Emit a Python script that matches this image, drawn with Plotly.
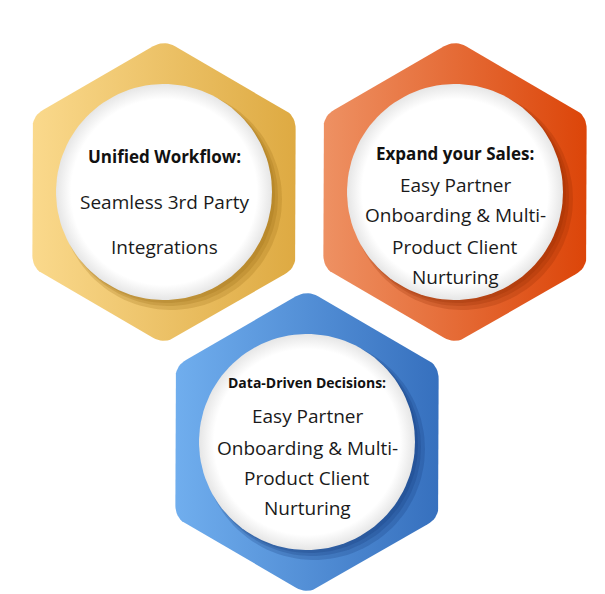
import numpy as np
import plotly.graph_objects as go

# content
titles = ['Unified Workflow:', 'Expand your Sales:', 'Data-Driven Decisions:']
bodies = [
    ['Seamless 3rd Party', 'Integrations'],
    ['Easy Partner', 'Onboarding & Multi-', 'Product Client', 'Nurturing'],
    ['Easy Partner', 'Onboarding & Multi-', 'Product Client', 'Nurturing'],
]

# layout (pixel coordinates, y down)
centers = [(164, 192), (455, 192), (307, 442)]
hex_r = 152
corner_r = 22
circle_r = 108
title_dy = [-36, -39, -60]
body_dy = [[10, 55], [-7, 23, 55, 85], [-26, 6, 36, 66]]
title_size = [17, 17, 14]
body_size = [19, 19, 19]

# styles
light = ['#FAD98C', '#EE9163', '#70AEEE']
dark = ['#DEAA42', '#DC4509', '#3670BE']
shadow = ['rgba(150,105,20,0.22)', 'rgba(140,40,0,0.22)', 'rgba(20,55,120,0.22)']
font = 'Open Sans'
page_offset = 8  # body margin of the html page


def rounded_hex(cx, cy, R, rc, n=10):
    ang = np.deg2rad(-90 + 60 * np.arange(6))
    vx = cx + R * np.cos(ang)
    vy = cy + R * np.sin(ang)
    xs, ys = [], []
    d = rc / np.tan(np.deg2rad(60))
    for i in range(6):
        p = np.array([vx[i], vy[i]])
        a = np.array([vx[i - 1], vy[i - 1]])
        b = np.array([vx[(i + 1) % 6], vy[(i + 1) % 6]])
        ua = (a - p) / np.linalg.norm(a - p)
        ub = (b - p) / np.linalg.norm(b - p)
        p1 = p + ua * d
        p2 = p + ub * d
        for t in np.linspace(0, 1, n):
            q = (1 - t) ** 2 * p1 + 2 * (1 - t) * t * p + t ** 2 * p2
            xs.append(q[0])
            ys.append(q[1])
    xs.append(xs[0])
    ys.append(ys[0])
    return xs, ys


def circle(cx, cy, r, n=120):
    t = np.linspace(0, 2 * np.pi, n)
    return list(cx + r * np.cos(t)), list(cy + r * np.sin(t))


fig = go.Figure()

for i, (cx, cy) in enumerate(centers):
    hx, hy = rounded_hex(cx, cy, hex_r, corner_r)
    fig.add_trace(go.Scatter(
        x=hx, y=hy, mode='lines', line=dict(width=0), fill='toself',
        fillgradient=dict(type='horizontal', colorscale=[[0, light[i]], [1, dark[i]]]),
        hoverinfo='skip', showlegend=False))

    # soft shadow under the circle, towards bottom right
    for off, grow in [(7, 3), (5, 1), (3, 0)]:
        sx, sy = circle(cx + off, cy + off, circle_r + grow)
        fig.add_trace(go.Scatter(
            x=sx, y=sy, mode='lines', line=dict(width=0), fill='toself',
            fillcolor=shadow[i], hoverinfo='skip', showlegend=False))

    ccx, ccy = circle(cx, cy, circle_r)
    fig.add_trace(go.Scatter(
        x=ccx, y=ccy, mode='lines', line=dict(width=0), fill='toself',
        fillgradient=dict(type='radial',
                          colorscale=[[0, '#FFFFFF'], [0.86, '#FFFFFF'], [1, '#E6E6E6']]),
        hoverinfo='skip', showlegend=False))

    fig.add_annotation(x=cx, y=cy + title_dy[i], text='<b>' + titles[i] + '</b>',
                       showarrow=False, font=dict(family=font, size=title_size[i], color='#111111'))
    for line, dy in zip(bodies[i], body_dy[i]):
        fig.add_annotation(x=cx, y=cy + dy, text=line, showarrow=False,
                           font=dict(family=font, size=body_size[i], color='#1a1a1a'))

fig.update_layout(
    width=605, height=594,
    margin=dict(l=0, r=0, t=0, b=0),
    paper_bgcolor='white', plot_bgcolor='white',
    xaxis=dict(range=[page_offset, 605 + page_offset], visible=False, fixedrange=True),
    yaxis=dict(range=[594 + page_offset, page_offset], visible=False, fixedrange=True),
)

fig.write_html('out.html')
